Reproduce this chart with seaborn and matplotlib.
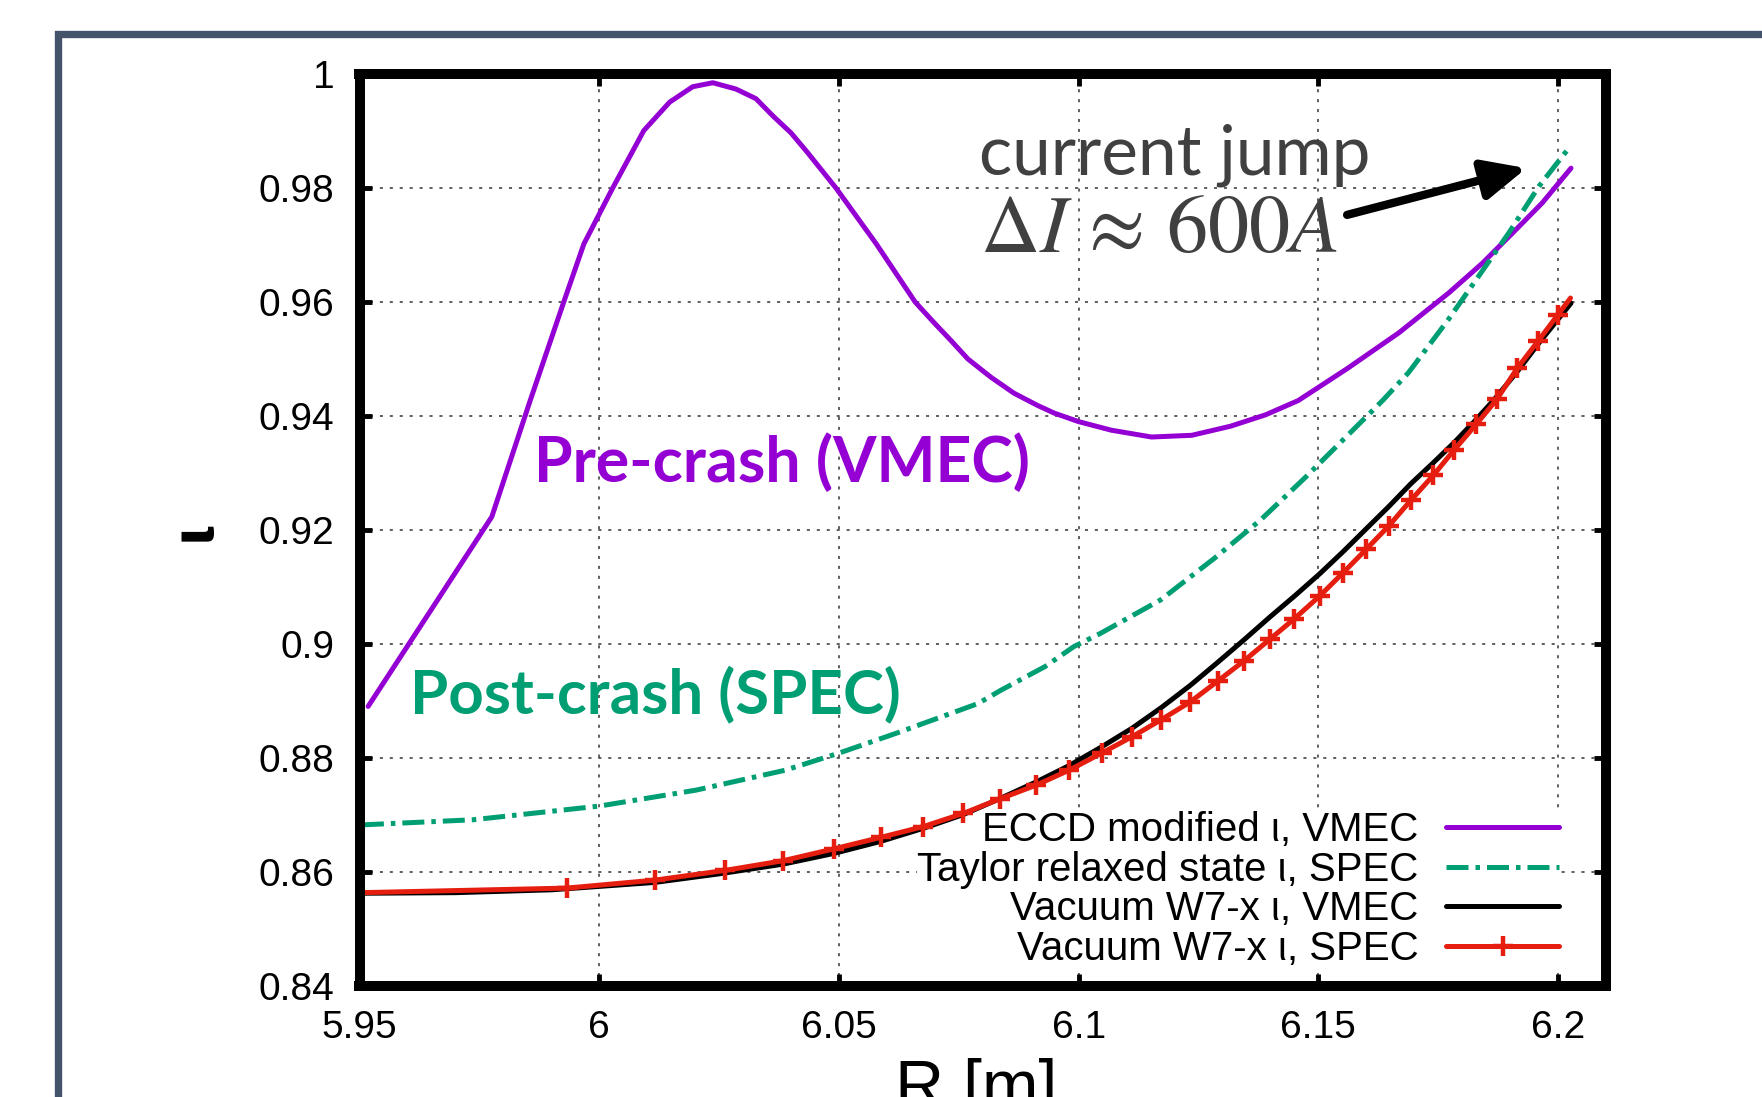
import matplotlib
matplotlib.use("Agg")
import matplotlib.pyplot as plt
import seaborn as sns
from matplotlib.patches import Rectangle
from matplotlib.lines import Line2D

# ---------------- data ----------------
eccd_R = [5.9518, 5.9776, 5.9856, 5.9926, 5.9968, 6.0028, 6.0093, 6.0147, 6.0195,
          6.0237, 6.0285, 6.0327, 6.0362, 6.0400, 6.0434, 6.0494, 6.0578, 6.0659,
          6.0697, 6.0733, 6.0769, 6.0817, 6.0865, 6.0913, 6.0949, 6.1000, 6.1068,
          6.1152, 6.1236, 6.1317, 6.1390, 6.1458, 6.1560, 6.1668, 6.1772, 6.1842,
          6.1905, 6.1967, 6.2027]
eccd_iota = [0.8890, 0.9223, 0.9427, 0.9600, 0.9702, 0.9800, 0.9901, 0.9951, 0.9978,
             0.9985, 0.9974, 0.9957, 0.9927, 0.9897, 0.9863, 0.9800, 0.9702, 0.9600,
             0.9565, 0.9533, 0.9500, 0.9468, 0.9440, 0.9419, 0.9405, 0.9390, 0.9375,
             0.9363, 0.9366, 0.9382, 0.9402, 0.9427, 0.9483, 0.9546, 0.9616, 0.9668,
             0.9721, 0.9774, 0.9835]

taylor_R = [5.9505, 5.9737, 6.0000, 6.0202, 6.0388, 6.0500, 6.0620, 6.0790, 6.0837,
            6.0930, 6.0990, 6.1045, 6.1171, 6.1283, 6.1379, 6.1474, 6.1554, 6.1634,
            6.1688, 6.1771, 6.1834, 6.1897, 6.1960, 6.2025]
taylor_iota = [0.8682, 0.8691, 0.8715, 0.8743, 0.8778, 0.8808, 0.8843, 0.8895, 0.8918,
               0.8960, 0.8995, 0.9018, 0.9077, 0.9150, 0.9217, 0.9293, 0.9360, 0.9427,
               0.9476, 0.9569, 0.9645, 0.9721, 0.9803, 0.9873]

vac_vmec_R = [5.9505, 5.9700, 5.9900, 6.0000, 6.0116, 6.0250, 6.0383, 6.0490, 6.0587,
              6.0676, 6.0759, 6.0838, 6.0913, 6.0980, 6.1048, 6.1112, 6.1171, 6.1233,
              6.1291, 6.1345, 6.1399, 6.1452, 6.1503, 6.1552, 6.1600, 6.1647, 6.1693,
              6.1740, 6.1783, 6.1825, 6.1865, 6.1915, 6.1960, 6.2027]
vac_vmec_iota = [0.8562, 0.8563, 0.8568, 0.8574, 0.8581, 0.8596, 0.8613, 0.8632, 0.8653,
                 0.8676, 0.8700, 0.8729, 0.8758, 0.8786, 0.8819, 0.8852, 0.8887, 0.8927,
                 0.8968, 0.9007, 0.9047, 0.9085, 0.9123, 0.9162, 0.9202, 0.9241, 0.9281,
                 0.9318, 0.9353, 0.9390, 0.9427, 0.9478, 0.9528, 0.9598]

vac_spec_R = [5.9505, 5.9932, 6.0116, 6.0262, 6.0383, 6.0490, 6.0587, 6.0676, 6.0759,
              6.0837, 6.0912, 6.0980, 6.1048, 6.1112, 6.1171, 6.1233, 6.1291, 6.1345,
              6.1399, 6.1450, 6.1503, 6.1552, 6.1600, 6.1647, 6.1693, 6.1740, 6.1783,
              6.1829, 6.1873, 6.1915, 6.1958, 6.2000, 6.2026]
vac_spec_iota = [0.8563, 0.8571, 0.8585, 0.8602, 0.8619, 0.8640, 0.8660, 0.8679, 0.8702,
                 0.8728, 0.8752, 0.8778, 0.8808, 0.8837, 0.8866, 0.8898, 0.8935, 0.8970,
                 0.9008, 0.9044, 0.9084, 0.9125, 0.9166, 0.9207, 0.9252, 0.9296, 0.9340,
                 0.9385, 0.9430, 0.9484, 0.9531, 0.9578, 0.9607]
vac_spec_marker_idx = list(range(1, len(vac_spec_R) - 1))

series_labels = ["ECCD modified ι, VMEC", "Taylor relaxed state ι, SPEC",
                 "Vacuum W7-x ι, VMEC", "Vacuum W7-x ι, SPEC"]
x_ticks = [5.95, 6.0, 6.05, 6.1, 6.15, 6.2]
x_tick_labels = ["5.95", "6", "6.05", "6.1", "6.15", "6.2"]
y_ticks = [0.84, 0.86, 0.88, 0.90, 0.92, 0.94, 0.96, 0.98, 1.0]
y_tick_labels = ["0.84", "0.86", "0.88", "0.9", "0.92", "0.94", "0.96", "0.98", "1"]

# ---------------- style ----------------
PURPLE = "#9400d3"
GREEN = "#009e73"
RED = "#e51e10"
GRAYTXT = "#404040"
LW = 3.6
DASHDOT = [4.4, 1.4, 0.9, 1.4]
MS = 14
MEW = 3.2

sns.set_theme(style="white")
plt.rcParams["font.family"] = ["Liberation Sans", "DejaVu Sans"]
plt.rcParams["mathtext.fontset"] = "stix"

fig = plt.figure(figsize=(17.62, 10.97), dpi=100)
ax = fig.add_axes([359.5 / 1762, 1 - 985.5 / 1097, (1606 - 359.5) / 1762, (985.5 - 74.2) / 1097])

sns.lineplot(x=eccd_R, y=eccd_iota, ax=ax, color=PURPLE, lw=LW, sort=False,
             estimator=None, legend=False, zorder=3)
sns.lineplot(x=taylor_R, y=taylor_iota, ax=ax, color=GREEN, lw=LW, sort=False,
             estimator=None, legend=False, zorder=3)
ax.lines[-1].set_dashes(DASHDOT)
sns.lineplot(x=vac_vmec_R, y=vac_vmec_iota, ax=ax, color="black", lw=LW, sort=False,
             estimator=None, legend=False, zorder=3)
sns.lineplot(x=vac_spec_R, y=vac_spec_iota, ax=ax, color=RED, lw=LW, sort=False,
             estimator=None, legend=False, marker="+", markersize=MS, mew=MEW,
             mec=RED, mfc=RED, markevery=vac_spec_marker_idx, zorder=3)
ax.lines[-1].set_linestyle("-")

ax.set_xlim(5.95, 6.21)
ax.set_ylim(0.84, 1.0)
ax.set_xticks(x_ticks)
ax.set_xticklabels(x_tick_labels)
ax.set_yticks(y_ticks)
ax.set_yticklabels(y_tick_labels)
ax.tick_params(axis="both", which="major", direction="in", length=8.6, width=3.5,
               color="black", labelcolor="black", labelsize=28,
               top=True, right=True, bottom=True, left=True)
ax.tick_params(axis="x", pad=17.3)
ax.tick_params(axis="y", pad=18)
for s in ax.spines.values():
    s.set_linewidth(7.2)
    s.set_color("black")
    s.set_visible(True)
    s.set_zorder(4)

ax.set_axisbelow(True)
ax.grid(True, color="#333333", lw=1.1, linestyle=(0, (2, 4.5)))

ax.set_xlabel("R [m]", fontsize=49, color="black")
ax.xaxis.set_label_coords(0.4946, -0.080)
ax.set_ylabel("")
ax.text(-0.132, 0.5, "ι", transform=ax.transAxes, rotation=90, ha="center",
        va="center", fontsize=40, fontweight="bold", color="black",
        family="DejaVu Sans")

# annotations
ax.text(5.98634, 0.92842, "Pre-crash (VMEC)", family="Lato", weight="bold",
        fontsize=45, color=PURPLE, ha="left", va="baseline", zorder=5)
ax.text(5.96055, 0.88783, "Post-crash (SPEC)", family="Lato", weight="bold",
        fontsize=44.5, color=GREEN, ha="left", va="baseline", zorder=5)
ax.text(6.07918, 0.98231, "current jump", family="Lato", fontsize=50,
        color=GRAYTXT, ha="left", va="baseline", zorder=5)
ax.text(6.0794, 0.96879, r"$\Delta I\,\approx\,600A$", fontsize=59,
        color=GRAYTXT, ha="left", va="baseline", zorder=5)
ax.annotate("", xy=(6.1934, 0.9835), xytext=(6.156, 0.9753),
            arrowprops=dict(arrowstyle="-|>,head_length=1.3,head_width=0.6",
                            mutation_scale=20, lw=6.0, color="black",
                            shrinkA=0, shrinkB=0), zorder=5)

# legend (gnuplot-like key, text left of sample, opaque over the grid only)
handles = [
    Line2D([], [], color=PURPLE, lw=LW),
    Line2D([], [], color=GREEN, lw=LW, dashes=DASHDOT),
    Line2D([], [], color="black", lw=LW),
    Line2D([], [], color=RED, lw=LW, marker="+", markersize=MS, mew=MEW, mec=RED),
]
leg = ax.legend(handles, series_labels, loc="lower right", bbox_to_anchor=(0.9625, 0.0192),
                markerfirst=False, frameon=True, fancybox=False, framealpha=1,
                edgecolor="none", facecolor="white", borderpad=0, borderaxespad=0,
                handlelength=2.8, handletextpad=0.7, labelspacing=0.04, fontsize=29)
leg.set_zorder(2)
for t in leg.get_texts():
    t.set_color("black")

# outer slide frame
fig.add_artist(Rectangle((58 / 1762, -0.3), 1.5, 0.3 + (1 - 33.7 / 1097),
                         transform=fig.transFigure, fill=False, edgecolor="#44546A",
                         lw=5.3, clip_on=False))

fig.savefig("out.png", dpi=100)
